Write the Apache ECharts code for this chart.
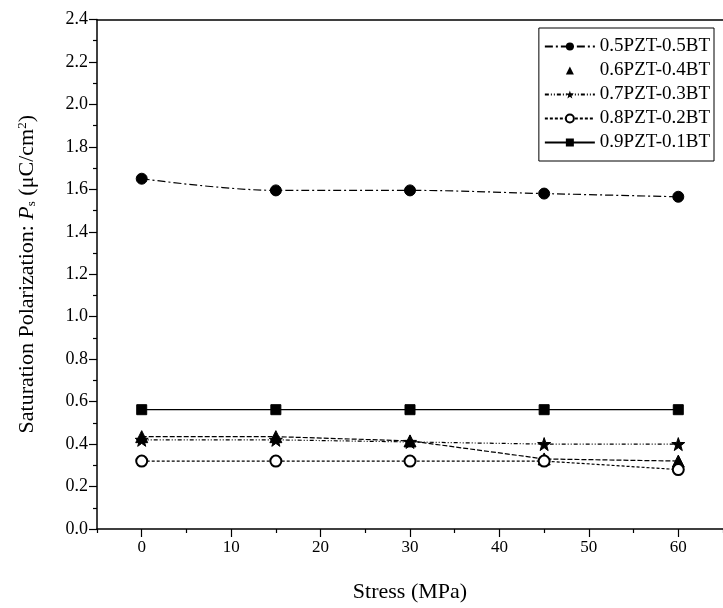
<!DOCTYPE html>
<html><head><meta charset="utf-8">
<script src="https://cdn.jsdelivr.net/npm/echarts@6/dist/echarts.min.js"></script>
<style>html,body{margin:0;padding:0;background:#fff}#c{width:723px;height:608px}</style>
</head><body><div id="c"></div>
<script>
const stress = [0, 15, 30, 45, 60];
const s05 = [1.65, 1.595, 1.595, 1.58, 1.565];
const s06 = [0.435, 0.435, 0.415, 0.33, 0.32];
const s07 = [0.42, 0.42, 0.41, 0.40, 0.40];
const s08 = [0.32, 0.32, 0.32, 0.32, 0.28];
const s09 = [0.562, 0.562, 0.562, 0.562, 0.562];
const names = ['0.5PZT-0.5BT','0.6PZT-0.4BT','0.7PZT-0.3BT','0.8PZT-0.2BT','0.9PZT-0.1BT'];
const xMajor = [0, 10, 20, 30, 40, 50, 60];
const xMinor = [-5, 5, 15, 25, 35, 45, 55, 65];

const F = 'Liberation Serif';
const pairs = a => stress.map((x, i) => [x, a[i]]);
const chart = echarts.init(document.getElementById('c'));
function ser(name, data, symbol, size, type, extra) {
  return Object.assign({
    name, type: 'line', data: pairs(data), symbol, symbolSize: size, showSymbol: true,
    itemStyle: {color: '#000', borderColor: '#000'},
    lineStyle: {color: '#000', width: 1.2, type},
    emphasis: {disabled: true}
  }, extra || {});
}
chart.setOption({
  animation: false,
  backgroundColor: '#fff',
  grid: {left: 97, right: -5, top: 19.5, bottom: 77},
  legend: {
    orient: 'vertical', right: 9, top: 28,
    borderColor: '#000', borderWidth: 1, padding: [9, 4, 9, 5],
    itemWidth: 50, itemHeight: 10, itemGap: 5,
    textStyle: {fontFamily: F, fontSize: 19, color: '#000'},
    data: [
      {name: names[0]},
      {name: names[1], lineStyle: {opacity: 0}},
      {name: names[2]},
      {name: names[3]},
      {name: names[4]}
    ]
  },
  xAxis: [{
    type: 'value', min: -5, max: 65, position: 'bottom',
    name: 'Stress (MPa)', nameLocation: 'middle', nameGap: 52,
    nameTextStyle: {fontFamily: F, fontSize: 22, color: '#000'},
    axisLine: {show: true, onZero: false, lineStyle: {color: '#000', width: 1.5}},
    axisTick: {show: true, inside: false, length: 8, customValues: xMajor, lineStyle: {color: '#000', width: 1.2}},
    axisLabel: {customValues: xMajor, margin: 10, fontFamily: F, fontSize: 17, color: '#000'},
    splitLine: {show: false}
  }, {
    type: 'value', min: -5, max: 65, position: 'bottom',
    axisLine: {show: false},
    axisTick: {show: true, length: 4, customValues: xMinor, lineStyle: {color: '#000', width: 1.2}},
    axisLabel: {show: false}, splitLine: {show: false}
  }, {
    type: 'value', min: -5, max: 65, position: 'top',
    axisLine: {show: true, onZero: false, lineStyle: {color: '#000', width: 1.5}},
    axisTick: {show: false}, axisLabel: {show: false}, splitLine: {show: false}
  }],
  yAxis: {
    type: 'value', min: 0, max: 2.4, interval: 0.2,
    name: 'Saturation Polarization: {i|P}{sub|s}{n| (μC/cm}{sup|2}{n|)}',
    nameLocation: 'middle', nameGap: 59, nameRotate: 90,
    nameTextStyle: {
      fontFamily: F, fontSize: 22, color: '#000',
      rich: {
        i: {fontFamily: F, fontSize: 22, fontStyle: 'italic', color: '#000'},
        n: {fontFamily: F, fontSize: 22, color: '#000'},
        sub: {fontFamily: F, fontSize: 13, color: '#000', verticalAlign: 'bottom', padding: [8, 0, 0, 0]},
        sup: {fontFamily: F, fontSize: 13, color: '#000', verticalAlign: 'top', padding: [0, 0, 8, 0]}
      }
    },
    axisLine: {show: true, onZero: false, lineStyle: {color: '#000', width: 1.5}},
    axisTick: {show: true, length: 8, lineStyle: {color: '#000', width: 1.2}},
    minorTick: {show: true, splitNumber: 2, length: 4, lineStyle: {color: '#000', width: 1.2}},
    axisLabel: {margin: 9, fontFamily: F, fontSize: 18, color: '#000', formatter: v => v.toFixed(1)},
    splitLine: {show: false}
  },
  series: [
    ser(names[0], s05, 'circle', 11, [8, 3, 2, 3], {smooth: 0.35}),
    ser(names[1], s06, 'triangle', 12, [5, 2]),
    ser(names[2], s07, 'path://M0,-10L2.35,-3.24L9.51,-3.09L3.8,1.24L5.88,8.09L0,4L-5.88,8.09L-3.8,1.24L-9.51,-3.09L-2.35,-3.24Z', 13, [4, 2, 1, 2, 1, 2]),
    ser(names[3], s08, 'emptyCircle', 11, [3, 2], {itemStyle: {color: '#000', borderWidth: 1.6}}),
    ser(names[4], s09, 'rect', 10, 'solid')
  ]
});
</script></body></html>
